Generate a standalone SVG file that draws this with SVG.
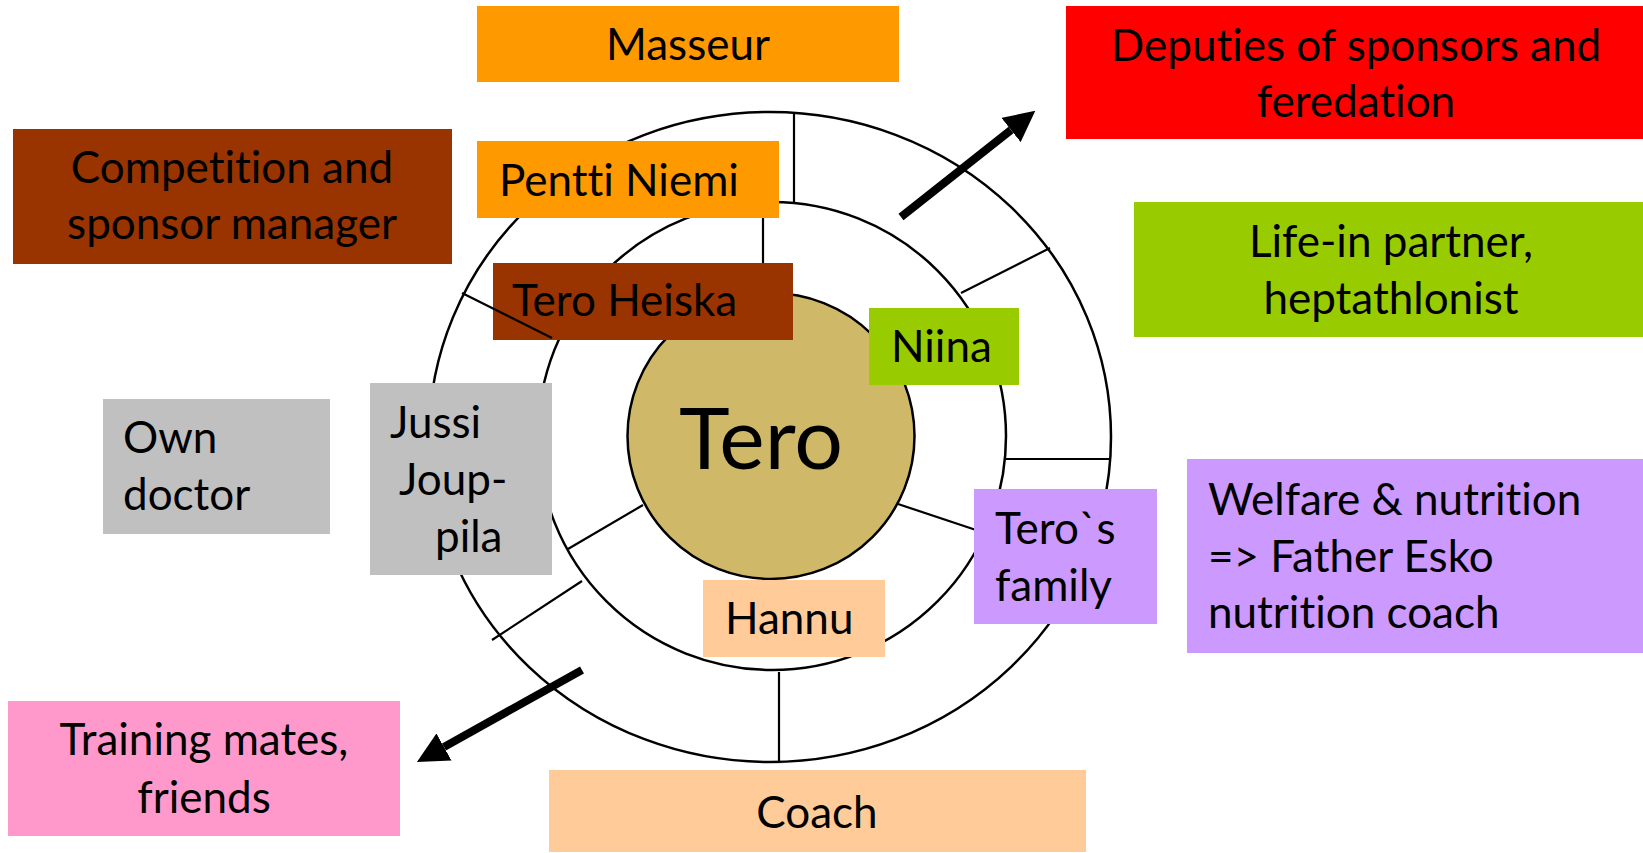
<svg xmlns="http://www.w3.org/2000/svg" width="1643" height="853" viewBox="0 0 1643 853">
<defs>
<style>
text { font-family: Lato, "Liberation Sans", sans-serif; font-size: 44px; fill: #000; font-variant-ligatures: none; }
.c { text-anchor: middle; }
.big { font-size: 86px; }
.ring { fill: #fff; stroke: #000; stroke-width: 2.5; }
.spoke { stroke: #000; stroke-width: 2.2; fill: none; }
.arrow { stroke: #000; stroke-width: 8; fill: none; marker-end: url(#ah); }
.orange { fill: #FF9900; }
.red { fill: #FF0000; }
.brown { fill: #993300; }
.green { fill: #99CC00; }
.gray { fill: #C0C0C0; }
.purple { fill: #CC99FF; }
.peach { fill: #FFCC99; }
.pink { fill: #FF99CC; }
</style>
<marker id="ah" viewBox="0 0 10 10" refX="0" refY="5" markerUnits="userSpaceOnUse" markerWidth="31" markerHeight="31" orient="auto" preserveAspectRatio="none"><path d="M0,0 L10,5 L0,10 z" fill="#000"/></marker>
</defs>
<rect x="0" y="0" width="1643" height="853" fill="#fff"/>
<g id="rings">
<ellipse class="ring" cx="770" cy="437" rx="341" ry="325"/>
<ellipse class="ring" cx="772" cy="436" rx="234" ry="234"/>
<line class="spoke" x1="794" y1="113" x2="794" y2="202"/>
<line class="spoke" x1="961" y1="293" x2="1050" y2="248"/>
<line class="spoke" x1="1006" y1="459" x2="1111" y2="459"/>
<line class="spoke" x1="492" y1="640" x2="582" y2="581"/>
<line class="spoke" x1="779" y1="672" x2="779" y2="762"/>
<line class="spoke" x1="763" y1="202" x2="763" y2="293"/>
<line class="spoke" x1="898" y1="504" x2="985" y2="533"/>
<line class="spoke" x1="568" y1="549" x2="643" y2="505"/>
</g>
<g id="tero">
<ellipse cx="771" cy="436" rx="143.5" ry="143" fill="#CFB968" stroke="#000" stroke-width="2.5"/>
<text class="c big" x="761" y="469">Tero</text>
</g>
<g id="masseur"><rect class="orange" x="477" y="6" width="422" height="76"/><text class="c" x="688" y="60">Masseur</text></g>
<g id="deputies"><rect class="red" x="1066" y="6" width="577" height="133"/><text class="c" x="1356" y="61">Deputies of sponsors and</text><text class="c" x="1356" y="117">feredation</text></g>
<g id="competition"><rect class="brown" x="13" y="129" width="439" height="135"/><text class="c" x="232" y="183">Competition and</text><text class="c" x="232" y="239">sponsor manager</text></g>
<g id="pentti"><rect class="orange" x="477" y="141" width="302" height="77"/><text x="499" y="196">Pentti Niemi</text></g>
<g id="lifein"><rect class="green" x="1134" y="202" width="509" height="135"/><text class="c" x="1391" y="257">Life-in partner,</text><text class="c" x="1391" y="314">heptathlonist</text></g>
<g id="heiska"><rect class="brown" x="493" y="263" width="300" height="77"/><text x="512" y="316">Tero Heiska</text></g>
<g id="niina"><rect class="green" x="869" y="308" width="150" height="77"/><text x="891" y="362">Niina</text></g>
<g id="owndoctor"><rect class="gray" x="103" y="399" width="227" height="135"/><text x="123" y="453">Own</text><text x="123" y="510">doctor</text></g>
<g id="jussi"><rect class="gray" x="370" y="383" width="182" height="192"/><text x="390" y="438">Jussi</text><text x="399" y="495">Joup-</text><text x="435" y="552">pila</text></g>
<g id="family"><rect class="purple" x="974" y="489" width="183" height="135"/><text x="995" y="544">Tero`s</text><text x="995" y="601">family</text></g>
<g id="welfare"><rect class="purple" x="1187" y="459" width="456" height="194"/><text x="1208" y="515">Welfare &amp; nutrition</text><text x="1208" y="572">=&gt; Father Esko</text><text x="1208" y="628">nutrition coach</text></g>
<g id="hannu"><rect class="peach" x="703" y="580" width="182" height="77"/><text x="725" y="634">Hannu</text></g>
<g id="training"><rect class="pink" x="8" y="701" width="392" height="135"/><text class="c" x="204" y="755">Training mates,</text><text class="c" x="204" y="813">friends</text></g>
<g id="coach"><rect class="peach" x="549" y="770" width="537" height="82"/><text class="c" x="817" y="828">Coach</text></g>
<g id="spoke-over">
<line class="spoke" x1="462" y1="293" x2="552" y2="338"/>
</g>
<g id="connectors">
<line class="arrow" x1="901" y1="217" x2="1011" y2="130"/>
<line class="arrow" x1="582" y1="670" x2="444" y2="747"/>
</g>
</svg>
